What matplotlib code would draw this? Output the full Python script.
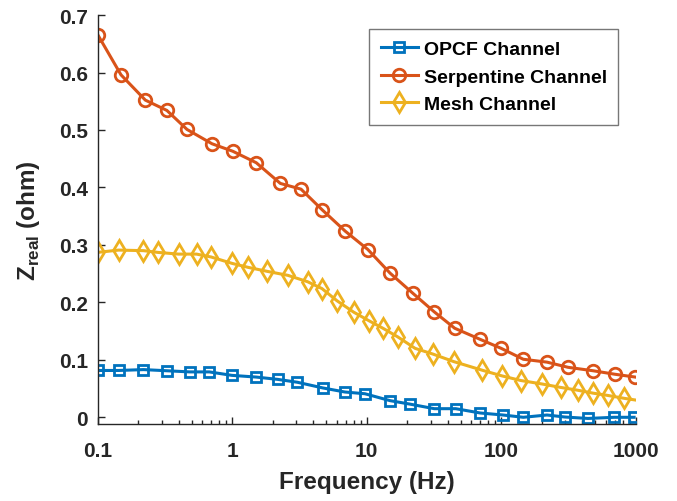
import matplotlib
matplotlib.use('Agg')
import matplotlib.pyplot as plt
from matplotlib.ticker import LogLocator, NullFormatter, FixedLocator, FixedFormatter

plt.rcParams['font.family'] = ['Liberation Sans', 'DejaVu Sans']
plt.rcParams['font.weight'] = 'bold'
plt.rcParams['mathtext.fontset'] = 'custom'
plt.rcParams['mathtext.rm'] = 'Liberation Sans'
plt.rcParams['mathtext.bf'] = 'Liberation Sans:bold'

# Frecuencias y parte real de la impedancia
f_opcf = [0.1, 0.143, 0.219, 0.327, 0.483, 0.676, 0.993, 1.51, 2.18, 3.05, 4.74, 6.89,
          9.7, 14.9, 20.9, 31.8, 45.9, 69.8, 103, 146, 219, 297, 442, 690, 973]
z_opcf = [0.0815, 0.0815, 0.083, 0.081, 0.079, 0.079, 0.073, 0.070, 0.066, 0.061, 0.051, 0.044,
          0.041, 0.029, 0.023, 0.015, 0.015, 0.0075, 0.004, 0.0, 0.004, 0.0005, -0.002, 0.0, 0.0]

f_serp = [0.1, 0.149, 0.226, 0.327, 0.461, 0.708, 1.01, 1.51, 2.28, 3.25, 4.67, 6.92,
          10.2, 14.9, 22.0, 31.6, 45.1, 69.2, 100, 146, 219, 314, 482, 697, 993]
z_serp = [0.666, 0.596, 0.552, 0.534, 0.501, 0.476, 0.463, 0.443, 0.407, 0.397, 0.361, 0.324,
          0.292, 0.251, 0.216, 0.184, 0.155, 0.136, 0.120, 0.101, 0.096, 0.087, 0.081, 0.075, 0.070]

f_mesh = [0.1, 0.143, 0.219, 0.28, 0.399, 0.543, 0.697, 0.993, 1.31, 1.82, 2.6, 3.63, 4.65,
          6.0, 8.0, 10.4, 13.2, 17.0, 22.9, 31.1, 44.3, 72.1, 101.6, 140, 201, 277, 373, 483,
          622, 822, 1000]
z_mesh = [0.287, 0.291, 0.290, 0.287, 0.284, 0.284, 0.279, 0.268, 0.261, 0.254, 0.247, 0.236, 0.224,
          0.203, 0.183, 0.168, 0.155, 0.140, 0.120, 0.110, 0.097, 0.082, 0.072, 0.064, 0.058, 0.052,
          0.047, 0.042, 0.038, 0.033, 0.030]

xticks = [0.1, 1, 10, 100, 1000]
xlabels = ['0.1', '1', '10', '100', '1000']
yticks = [0, 0.1, 0.2, 0.3, 0.4, 0.5, 0.6, 0.7]
ylabels = ['0', '0.1', '0.2', '0.3', '0.4', '0.5', '0.6', '0.7']

fig = plt.figure(figsize=(6.77, 5.02), dpi=100)
ax = fig.add_axes([0.1443, 0.153, 0.7947, 0.815])

ax.plot(f_opcf, z_opcf, '-s', color='#0072BD', lw=2.2, ms=7, mew=2, mfc='none',
        label='OPCF Channel')
ax.plot(f_serp, z_serp, '-o', color='#D95319', lw=2.2, ms=9, mew=2, mfc='none',
        label='Serpentine Channel')
ax.plot(f_mesh, z_mesh, '-d', color='#EDB120', lw=2.2, ms=10, mew=2, mfc='none',
        markevery=list(range(len(f_mesh) - 1)), label='Mesh Channel')

ax.set_xscale('log')
ax.set_xlim(0.1, 1000)
ax.set_ylim(-0.012, 0.7)
ax.xaxis.set_major_locator(FixedLocator(xticks))
ax.xaxis.set_major_formatter(FixedFormatter(xlabels))
ax.xaxis.set_minor_locator(LogLocator(base=10, subs=range(2, 10)))
ax.xaxis.set_minor_formatter(NullFormatter())
ax.yaxis.set_major_locator(FixedLocator(yticks))
ax.yaxis.set_major_formatter(FixedFormatter(ylabels))

for s in ['top', 'right']:
    ax.spines[s].set_visible(False)
for s in ['left', 'bottom']:
    ax.spines[s].set_color('#262626')
    ax.spines[s].set_linewidth(1.0)

ax.tick_params(which='both', direction='in', colors='#262626', labelsize=15, width=1.0)
ax.tick_params(which='major', length=5)
ax.tick_params(which='minor', length=3)
ax.tick_params(axis='x', pad=12)
ax.tick_params(axis='y', pad=7)
for lab in ax.get_xticklabels() + ax.get_yticklabels():
    lab.set_fontweight('bold')

ax.set_xlabel('Frequency (Hz)', fontsize=17.5, fontweight='bold', color='#262626', labelpad=7)
ax.set_ylabel(r'Z$_{\mathbf{real}}$ (ohm)', fontsize=17.5, fontweight='bold', color='#262626',
              labelpad=12)

leg = ax.legend(loc='upper right', bbox_to_anchor=(0.968, 0.966), borderaxespad=0,
                fontsize=14, fancybox=False, handlelength=1.9, handletextpad=0.3,
                labelspacing=0.5, borderpad=0.6)
leg.get_frame().set_edgecolor('#555555')
leg.get_frame().set_linewidth(1.0)
for t in leg.get_texts():
    t.set_fontweight('bold')
    t.set_color('black')

fig.savefig('out.png', dpi=100)
